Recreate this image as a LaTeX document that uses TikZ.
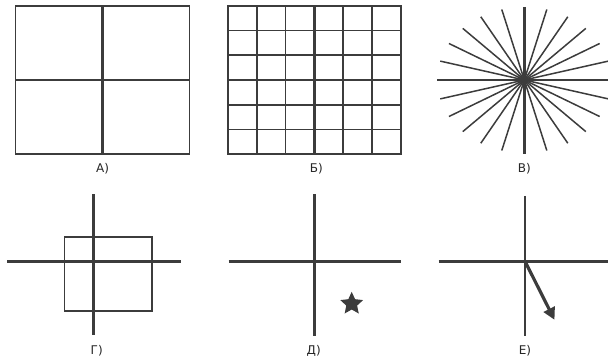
\documentclass[tikz,border=0pt]{standalone}
\usepackage{fontspec}
\setsansfont{DejaVu Sans}
\usetikzlibrary{arrows.meta, shapes.geometric}
\definecolor{figureGray}{HTML}{3C3C3C}

\begin{document}
\begin{tikzpicture}[
        x=1pt, y=-1pt,
        axisline/.style={
            draw=figureGray,
            line width=2.6pt
        },
        gridline/.style={
            draw=figureGray,
            line width=1.6pt
        },
        rayline/.style={
            draw=figureGray,
            line width=1.5pt
        },
        framebox/.style={
            draw=figureGray,
            line width=1.2pt
        },
        vecarrow/.style={
            draw=figureGray,
            line width=3.2pt,
            -{Triangle[length=12pt,width=12pt]}
        },
        starmark/.style={
            star, star points=5, star point ratio=2.1,
            fill=figureGray, minimum size=24pt, inner sep=0pt
        },
        panellabel/.style={
            font=\sffamily\fontsize{12}{14}\selectfont,
            text=black!85
        }
    ]
    \useasboundingbox (0,0) rectangle (608,361);

    % Top row: square, grid, rays
    \begin{scope}[shift={(102.5,80)}]
        \path[gridline] (-87,-74) rectangle (87,74);
        \path[axisline] (0,-74) -- (0,74);
        \path[axisline] (-87,0) -- (87,0);
        \node[panellabel] (labelA) at (0,89) {А)};
    \end{scope}

    \begin{scope}[shift={(314.3,80)}]
        \foreach \i in {-2,-1,1,2} {
            \path[gridline] ({\i*28.8},-74) -- ({\i*28.8},74);
            \path[gridline] (-86.5,{\i*24.7}) -- (86.5,{\i*24.7});
        }
        \path[gridline] (-86.5,-74) rectangle (86.5,74);
        \path[axisline] (0,-74) -- (0,74);
        \path[axisline] (-86.5,0) -- (86.5,0);
        \node[panellabel] (labelB) at (2,89) {Б)};
    \end{scope}

    \begin{scope}[shift={(524.3,80)}]
        \foreach \a in {15,30,45,60,75,105,120,135,150,165}
            \path[rayline] ({87*cos(\a)},{73*sin(\a)}) -- ({-87*cos(\a)},{-73*sin(\a)});
        \path[axisline] (0,-73) -- (0,74);
        \path[axisline] (-87,0) -- (84,0);
        \node[panellabel] (labelV) at (0,89) {В)};
    \end{scope}

    % Bottom row: axes with frame, star, vector
    \begin{scope}[shift={(93.7,261.3)}]
        \path[framebox] (-29.4,-24.3) rectangle (58.3,49.7);
        \path[axisline] (0,-67) -- (0,74);
        \path[axisline] (-86.5,0) -- (87,0);
        \node[panellabel] (labelG) at (3,89.5) {Г)};
    \end{scope}

    \begin{scope}[shift={(314.7,261.3)}]
        \path[axisline] (0,-67) -- (0,74.5);
        \path[axisline] (-86,0) -- (86,0);
        \node[starmark] (star) at (37,42.5) {};
        \node[panellabel] (labelD) at (-1,89.5) {Д)};
    \end{scope}

    \begin{scope}[shift={(525,261.3)}]
        \coordinate (origin) at (0,0);
        \coordinate (tip) at (29.5,58.5);
        \path[axisline] (0,-65.5) -- (0,74.5);
        \path[axisline] (-86.5,0) -- (83,0);
        \draw[vecarrow] (origin) -- (tip);
        \node[panellabel] (labelE) at (0,89.5) {Е)};
    \end{scope}

\end{tikzpicture}
\end{document}
